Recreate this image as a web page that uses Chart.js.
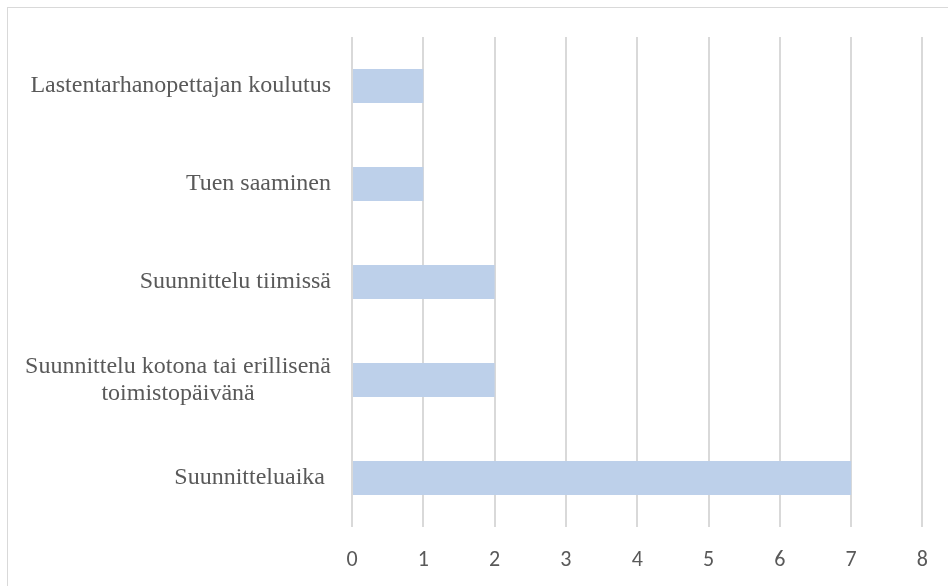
<!DOCTYPE html>
<html>
<head>
<meta charset="utf-8">
<script src="https://cdn.jsdelivr.net/npm/chart.js@4/dist/chart.umd.min.js"></script>
<style>
  html, body { margin: 0; padding: 0; background: #fff; overflow: hidden; }
  #wrap { position: relative; width: 948px; height: 586px; }
  #frame { position: absolute; left: 7px; top: 7px; width: 1000px; height: 1000px;
           border: 1px solid #d9d9d9; box-sizing: border-box; }
  canvas { position: absolute; left: 0; top: 0; }
</style>
</head>
<body>
<div id="wrap">
  <div id="frame"></div>
  <canvas id="barChart" width="948" height="586"></canvas>
</div>
<script>
// data (top to bottom)
var categories = [
    'Lastentarhanopettajan koulutus',
    'Tuen saaminen',
    'Suunnittelu tiimissä',
    ['Suunnittelu kotona tai erillisenä', 'toimistopäivänä'],
    'Suunnitteluaika '
];
var counts = [1, 1, 2, 2, 7];
var xTicks = [0, 1, 2, 3, 4, 5, 6, 7, 8];

var labelFont = '24px "Liberation Serif", "Times New Roman", serif';
var textColor = '#595959';

// draws the category labels: block right aligned, lines centred inside block
var catLabels = {
    id: 'catLabels',
    afterDraw: function (chart) {
        var ctx = chart.ctx;
        var y = chart.scales.y;
        var right = chart.chartArea.left - 21;
        var lineH = 27;
        ctx.save();
        ctx.font = labelFont;
        ctx.fillStyle = textColor;
        ctx.textBaseline = 'middle';
        ctx.textAlign = 'center';
        categories.forEach(function (lab, i) {
            var lines = Array.isArray(lab) ? lab : [lab];
            var w = 0;
            lines.forEach(function (l) { w = Math.max(w, ctx.measureText(l).width); });
            var cx = right - w / 2;
            var cy = y.getPixelForValue(i) - (lines.length - 1) * lineH / 2;
            lines.forEach(function (l, k) {
                ctx.fillText(l, cx, cy + k * lineH);
            });
        });
        ctx.restore();
    }
};

var ctx = document.getElementById('barChart').getContext('2d');
new Chart(ctx, {
    type: 'bar',
    data: {
        labels: categories,
        datasets: [{
            data: counts,
            backgroundColor: '#bdd0ea',
            borderWidth: 0,
            barPercentage: 0.347,
            categoryPercentage: 1
        }]
    },
    options: {
        indexAxis: 'y',
        responsive: false,
        animation: false,
        events: [],
        layout: { padding: { top: 37, right: 21, bottom: 0, left: 0 } },
        plugins: { legend: { display: false }, tooltip: { enabled: false } },
        scales: {
            x: {
                min: 0,
                max: 8,
                afterBuildTicks: function (scale) {
                    scale.ticks = xTicks.map(function (v) { return { value: v }; });
                },
                afterFit: function (scale) { scale.height = 59; },
                grid: { color: '#d9d9d9', lineWidth: 2, drawTicks: false },
                border: { display: false },
                ticks: {
                    padding: 20,
                    color: textColor,
                    font: { family: 'Carlito, Calibri, sans-serif', size: 22 }
                }
            },
            y: {
                grid: { display: false },
                border: { display: false },
                ticks: { display: false },
                afterFit: function (scale) { scale.width = 352; }
            }
        }
    },
    plugins: [catLabels]
});
</script>
</body>
</html>
